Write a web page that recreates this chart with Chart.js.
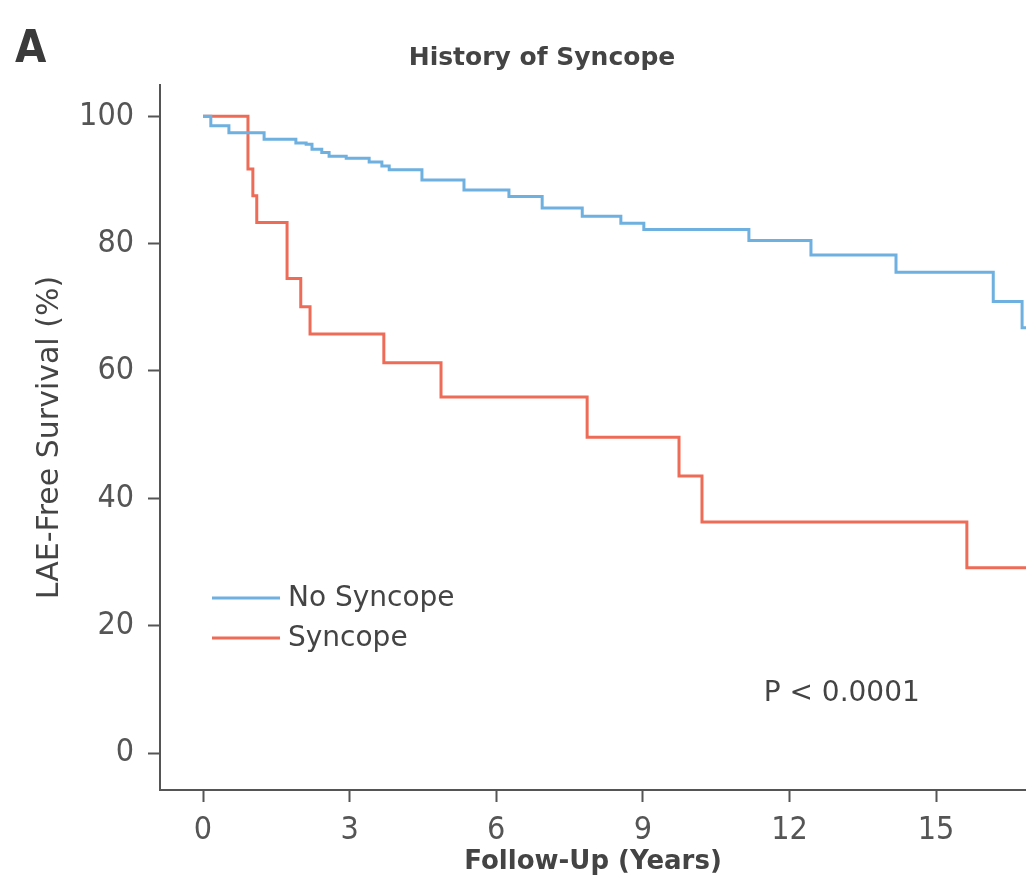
<!DOCTYPE html>
<html>
<head>
<meta charset="utf-8">
<title>History of Syncope</title>
<script src="https://cdn.jsdelivr.net/npm/chart.js@4.4.1/dist/chart.umd.min.js"></script>
<style>
  html, body { margin: 0; padding: 0; background: #ffffff; overflow: hidden; }
  #km { display: block; }
</style>
</head>
<body>
<canvas id="km" width="1026" height="889"></canvas>
<script>
// Kaplan-Meier step data: time of each drop (years) and survival after it (%)
const noSyncopeYears    = [0, 0.16, 0.53, 1.25, 1.90, 2.11, 2.23, 2.43, 2.58, 2.93, 3.40, 3.66, 3.81, 4.48, 5.34, 6.26, 6.94, 7.76, 8.55, 9.02, 11.17, 12.44, 14.18, 16.17, 16.76, 17.2];
const noSyncopeSurvival = [100, 98.5, 97.4, 96.4, 95.8, 95.6, 94.8, 94.3, 93.7, 93.4, 92.8, 92.2, 91.6, 90.0, 88.4, 87.4, 85.6, 84.3, 83.2, 82.2, 80.5, 78.2, 75.5, 70.9, 66.8, 66.8];

const syncopeYears      = [0, 0.92, 1.02, 1.10, 1.72, 2.00, 2.19, 3.70, 4.87, 7.86, 9.74, 10.21, 15.63, 17.2];
const syncopeSurvival   = [100, 91.7, 87.5, 83.3, 74.5, 70.1, 65.8, 61.3, 55.9, 49.6, 43.5, 36.3, 29.1, 29.1];

const seriesLabels = ['No Syncope', 'Syncope'];
const seriesColors = ['#6eb0e0', '#ee6b57'];

const xTickValues = [0, 3, 6, 9, 12, 15];
const yTickValues = [0, 20, 40, 60, 80, 100];

const panelLetter = 'A';
const chartTitle  = 'History of Syncope';
const xAxisTitle  = 'Follow-Up (Years)';
const yAxisTitle  = 'LAE-Free Survival (%)';
const pValueText  = 'P < 0.0001';

const toPoints = (xs, ys) => xs.map((x, i) => ({ x: x, y: ys[i] }));

const AXIS = '#555555';
const TEXT = '#444444';
const COND = '"DejaVu Sans Condensed", "DejaVu Sans", sans-serif';
const SANS = '"DejaVu Sans", sans-serif';

// Panel letter, title, in-plot legend and p-value
const overlayText = {
  id: 'overlayText',
  afterDraw(chart) {
    const ctx = chart.ctx;
    const area = chart.chartArea;
    const xs = chart.scales.x, ys = chart.scales.y;
    ctx.save();
    ctx.textBaseline = 'alphabetic';

    ctx.fillStyle = '#3a3a3a';
    ctx.font = 'bold 45px ' + COND;
    ctx.textAlign = 'left';
    ctx.fillText(panelLetter, 15, 62);

    ctx.fillStyle = TEXT;
    ctx.font = 'bold 25px ' + SANS;
    ctx.textAlign = 'center';
    ctx.fillText(chartTitle, 542, 65);

    // legend
    ctx.textAlign = 'left';
    ctx.textBaseline = 'middle';
    ctx.font = '28px ' + SANS;
    chart.data.datasets.forEach((ds, i) => {
      const y = area.top + 513 + i * 40;
      ctx.strokeStyle = ds.borderColor;
      ctx.lineWidth = ds.borderWidth;
      ctx.beginPath();
      ctx.moveTo(area.left + 52, y);
      ctx.lineTo(area.left + 120, y);
      ctx.stroke();
      ctx.fillStyle = TEXT;
      ctx.fillText(ds.label, area.left + 128, y + 1);
    });

    // p-value
    ctx.font = '28px ' + SANS;
    ctx.textAlign = 'center';
    ctx.fillText(pValueText, xs.getPixelForValue(13.07), ys.getPixelForValue(9.3));
    ctx.restore();
  }
};

new Chart(document.getElementById('km'), {
  type: 'line',
  data: {
    datasets: [
      {
        label: seriesLabels[0],
        data: toPoints(noSyncopeYears, noSyncopeSurvival),
        borderColor: seriesColors[0],
        borderWidth: 3,
        stepped: 'before',
        pointRadius: 0,
        fill: false
      },
      {
        label: seriesLabels[1],
        data: toPoints(syncopeYears, syncopeSurvival),
        borderColor: seriesColors[1],
        borderWidth: 3,
        stepped: 'before',
        pointRadius: 0,
        fill: false
      }
    ]
  },
  options: {
    responsive: false,
    animation: false,
    devicePixelRatio: 1,
    layout: { padding: { top: 85, right: 0, bottom: 0, left: 0 } },
    plugins: {
      legend: { display: false },
      title: { display: false },
      tooltip: { enabled: false }
    },
    scales: {
      x: {
        type: 'linear',
        min: -0.88,
        max: 16.84,
        afterBuildTicks: s => { s.ticks = xTickValues.map(v => ({ value: v })); },
        afterFit: s => { s.height = 99; },
        border: { display: true, color: AXIS, width: 2 },
        grid: { display: true, drawOnChartArea: false, drawTicks: true, tickLength: 12, tickWidth: 2, tickColor: AXIS },
        ticks: { color: '#555555', font: { family: COND, size: 32 }, padding: 9, maxRotation: 0, autoSkip: false },
        title: { display: true, text: xAxisTitle, color: TEXT, font: { family: SANS, size: 26, weight: 'bold' }, padding: { top: 0, bottom: 11 } }
      },
      y: {
        type: 'linear',
        min: -5.8,
        max: 104.9,
        afterBuildTicks: s => { s.ticks = yTickValues.map(v => ({ value: v })); },
        afterFit: s => { s.width = 160; },
        border: { display: true, color: AXIS, width: 2 },
        grid: { display: true, drawOnChartArea: false, drawTicks: true, tickLength: 12, tickWidth: 2, tickColor: AXIS },
        ticks: { color: '#555555', font: { family: COND, size: 32 }, padding: 14 },
        title: { display: true, text: yAxisTitle, color: TEXT, font: { family: SANS, size: 30 }, padding: { top: 32, bottom: 0 } }
      }
    }
  },
  plugins: [overlayText]
});
</script>
</body>
</html>
